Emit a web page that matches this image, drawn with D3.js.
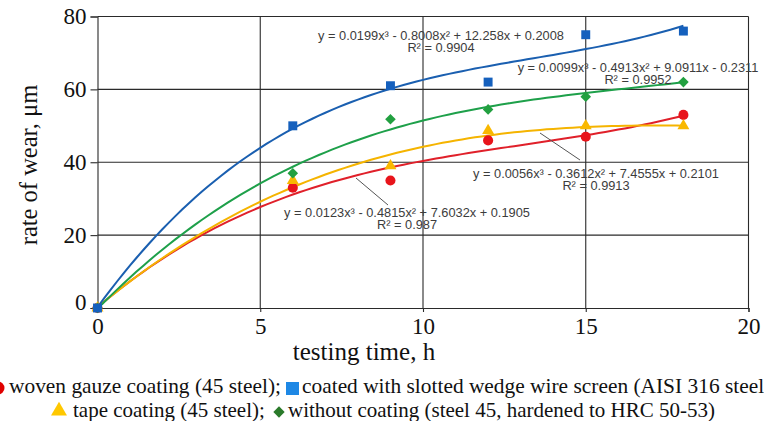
<!DOCTYPE html>
<html>
<head>
<meta charset="utf-8">
<script src="https://cdn.jsdelivr.net/npm/d3@7"></script>
<style>
  body { margin: 0; background: #fff; }
  .tick text { font-family: "Liberation Serif", "Times New Roman", serif; font-size: 23px; fill: #111; }
  .eq { font-family: "Liberation Sans", Arial, sans-serif; font-size: 12.8px; fill: #3c3c3c; }
  .legend { font-family: "Liberation Serif", "Times New Roman", serif; font-size: 21px; fill: #111; }
  .title { font-family: "Liberation Serif", "Times New Roman", serif; font-size: 25px; fill: #111; }
</style>
</head>
<body>
<div id="chart"></div>
<script>
// measured points, testing time (h) vs wear (um)
const hours = [0, 6, 9, 12, 15, 18];
const gauzeWear = [0, 33, 35, 46, 47, 53];
const tapeWear = [0, 35, 39, 48.7, 50, 50];
const bareWear = [0, 37, 51.8, 54.5, 58, 62];
const screenWear = [0, 50, 61, 62, 75, 76];

// cubic trendline coefficients [c0, c1, c2, c3] as printed on the chart
const gauzeFit = [0.1905, 7.6032, -0.4815, 0.0123];
const tapeFit = [0.2101, 7.4555, -0.3612, 0.0056];
const bareFit = [-0.2311, 9.0911, -0.4913, 0.0099];
const screenFit = [0.2008, 12.258, -0.8008, 0.0199];

const gauzeEq = ["y = 0.0123x³ - 0.4815x² + 7.6032x + 0.1905", "R² = 0.987"];
const tapeEq = ["y = 0.0056x³ - 0.3612x² + 7.4555x + 0.2101", "R² = 0.9913"];
const bareEq = ["y = 0.0099x³ - 0.4913x² + 9.0911x - 0.2311", "R² = 0.9952"];
const screenEq = ["y = 0.0199x³ - 0.8008x² + 12.258x + 0.2008", "R² = 0.9904"];

const xTicks = [0, 5, 10, 15, 20];
const yTicks = [0, 20, 40, 60, 80];

const width = 764;
const height = 421;

const svg = d3.select("#chart")
    .append("svg")
    .attr("width", width)
    .attr("height", height)
    .style("display", "block");

const x = d3.scaleLinear().domain([0, 20]).range([97.5, 748.5]);
const y = d3.scaleLinear().domain([0, 80]).range([308, 16.5]);

// grid
const grid = svg.append("g").attr("stroke", "#2a2a2a").attr("stroke-width", 1.1);
grid.selectAll("line.h")
    .data(yTicks.slice(1))
    .enter().append("line")
    .attr("x1", x(0)).attr("x2", x(20))
    .attr("y1", d => y(d)).attr("y2", d => y(d));
grid.selectAll("line.v")
    .data(xTicks.slice(1))
    .enter().append("line")
    .attr("x1", d => x(d)).attr("x2", d => x(d))
    .attr("y1", y(80)).attr("y2", y(0));

// axes
svg.append("g")
    .attr("transform", `translate(${x(0)},0)`)
    .call(d3.axisLeft(y).tickValues(yTicks).tickSize(7).tickPadding(4))
    .call(g => g.selectAll("path, line").attr("stroke", "#2a2a2a").attr("stroke-width", 1.1))
    .call(g => g.selectAll("text").attr("dy", (d) => d === 0 ? "0.05em" : "0.32em"));

svg.append("g")
    .attr("transform", `translate(0,${y(0)})`)
    .call(d3.axisBottom(x).tickValues(xTicks).tickSize(4).tickPadding(6))
    .call(g => g.selectAll("path, line").attr("stroke", "#2a2a2a").attr("stroke-width", 1.1));

// trend curves
const series = [
    { values: gauzeWear, fit: gauzeFit, line: "#e0202a", mark: "#e8141b", shape: "circle" },
    { values: tapeWear, fit: tapeFit, line: "#f5b400", mark: "#f9b800", shape: "triangle" },
    { values: bareWear, fit: bareFit, line: "#1ea04a", mark: "#22a040", shape: "diamond" },
    { values: screenWear, fit: screenFit, line: "#1a5fb0", mark: "#1560bd", shape: "square" }
];

const poly = (c, t) => c[0] + c[1] * t + c[2] * t * t + c[3] * t * t * t;
const fitX = d3.range(0, 18.001, 0.2);
const line = d3.line().x(d => x(d[0])).y(d => y(d[1]));

svg.append("g")
    .selectAll("path")
    .data(series)
    .enter().append("path")
    .attr("fill", "none")
    .attr("stroke", d => d.line)
    .attr("stroke-width", 2)
    .attr("d", d => line(fitX.map(t => [t, poly(d.fit, t)])));

// markers (diamond = rotated square)
const symbolType = { circle: d3.symbolCircle, triangle: d3.symbolTriangle, diamond: d3.symbolSquare, square: d3.symbolSquare };
const symbolSize = { circle: 80, triangle: 62, diamond: 56, square: 80 };

series.forEach(s => {
    svg.append("g")
        .selectAll("path")
        .data(hours.map((h, i) => [h, s.values[i]]))
        .enter().append("path")
        .attr("transform", d => `translate(${x(d[0])},${y(d[1])})` + (s.shape === "diamond" ? " rotate(45)" : ""))
        .attr("d", d3.symbol().type(symbolType[s.shape]).size(symbolSize[s.shape]))
        .attr("fill", s.mark);
});

// equation labels
const eqs = [
    { text: screenEq, cx: 441, by: 40 },
    { text: bareEq, cx: 638, by: 72 },
    { text: tapeEq, cx: 596, by: 177.5 },
    { text: gauzeEq, cx: 407, by: 217 }
];
eqs.forEach(e => {
    svg.selectAll(null)
        .data(e.text)
        .enter().append("text")
        .attr("class", "eq")
        .attr("text-anchor", "middle")
        .attr("x", e.cx)
        .attr("y", (d, i) => e.by + i * 12)
        .text(d => d);
});

// leader lines from labels to curves
svg.append("line").attr("x1", 356).attr("y1", 178).attr("x2", 388).attr("y2", 205)
    .attr("stroke", "#555").attr("stroke-width", 1);
svg.append("line").attr("x1", 540).attr("y1", 133).attr("x2", 580).attr("y2", 160)
    .attr("stroke", "#555").attr("stroke-width", 1);

// axis titles
svg.append("text")
    .attr("class", "title")
    .attr("text-anchor", "middle")
    .attr("x", 364).attr("y", 360)
    .text("testing time, h");

svg.append("text")
    .attr("class", "title")
    .attr("text-anchor", "middle")
    .attr("transform", "translate(37,165) rotate(-90)")
    .style("font-size", "24.5px")
    .text("rate of wear, μm");

// legend
const legend = svg.append("g");
legend.append("circle").attr("cx", -2).attr("cy", 388).attr("r", 6.5).attr("fill", "#e00000");
legend.append("text").attr("class", "legend").attr("x", 9).attr("y", 393)
    .style("font-size", "21.4px").text("woven gauze coating (45 steel);");
legend.append("rect").attr("x", 286).attr("y", 382).attr("width", 13).attr("height", 13).attr("fill", "#1e88e5");
legend.append("text").attr("class", "legend").attr("x", 302).attr("y", 393)
    .style("font-size", "21.4px").text("coated with slotted wedge wire screen (AISI 316 steel)");
legend.append("path")
    .attr("transform", "translate(59,411)")
    .attr("d", d3.symbol().type(d3.symbolTriangle).size(110))
    .attr("fill", "#ffc800");
legend.append("text").attr("class", "legend").attr("x", 73).attr("y", 417).text("tape coating (45 steel);");
legend.append("path")
    .attr("transform", "translate(279,412) rotate(45)")
    .attr("d", d3.symbol().type(d3.symbolSquare).size(64))
    .attr("fill", "#2a7a2a");
legend.append("text").attr("class", "legend").attr("x", 288).attr("y", 417).text("without coating (steel 45, hardened to HRC 50-53)");
</script>
</body>
</html>
